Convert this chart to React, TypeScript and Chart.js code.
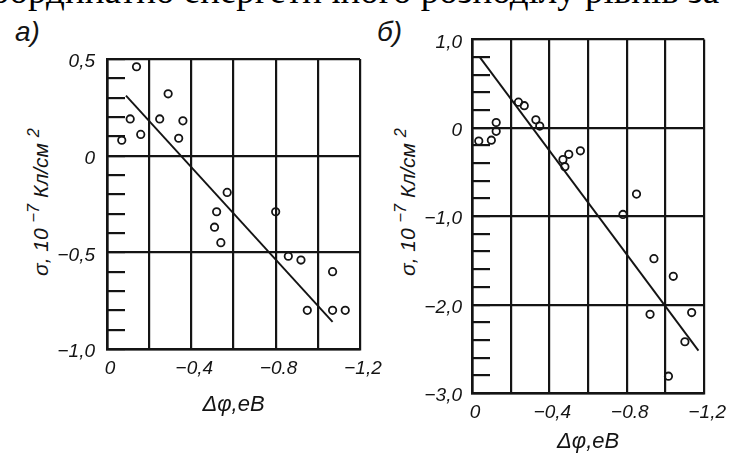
import React, { useEffect, useRef } from 'react';
import { Chart, registerables } from 'chart.js';

Chart.register(...registerables);

const INK = '#141414';
const SANS = "'Liberation Sans', Arial, sans-serif";

// Panel а: σ versus Δφ
const phiA = [-0.07, -0.11, -0.14, -0.16, -0.25, -0.29, -0.34, -0.36, -0.57, -0.52, -0.51, -0.54, -0.80, -0.86, -0.92, -1.07, -0.95, -1.07, -1.13];
const sigmaA = [0.08, 0.19, 0.46, 0.11, 0.19, 0.32, 0.09, 0.18, -0.19, -0.29, -0.37, -0.45, -0.29, -0.52, -0.54, -0.60, -0.80, -0.80, -0.80];
const fitPhiA = [-0.09, -1.07];
const fitSigmaA = [0.31, -0.86];

// Panel б: σ versus Δφ
const phiB = [-0.035, -0.10, -0.125, -0.125, -0.24, -0.27, -0.33, -0.35, -0.47, -0.50, -0.48, -0.56, -0.85, -0.78, -0.94, -1.04, -0.92, -1.135, -1.10, -1.015];
const sigmaB = [-0.15, -0.14, 0.06, -0.04, 0.29, 0.25, 0.09, 0.02, -0.36, -0.30, -0.44, -0.26, -0.75, -0.98, -1.48, -1.68, -2.11, -2.09, -2.42, -2.81];
const fitPhiB = [-0.04, -1.17];
const fitSigmaB = [0.80, -2.52];

// Axis ticks and labels
const xTickValues = [0, -0.4, -0.8, -1.2];
const xTickLabels = ['0', '−0,4', '−0.8', '−1,2'];
const yTickValuesA = [0.5, 0, -0.5, -1];
const yTickLabelsA = ['0,5', '0', '−0,5', '−1,0'];
const yTickValuesB = [1, 0, -1, -2, -3];
const yTickLabelsB = ['1,0', '0', '−1,0', '−2,0', '−3,0'];

const xTitle = 'Δφ,еВ';
const headerText = 'координатно енергетичного розподілу рівнів за';

const find = (values: number[], v: number) => values.findIndex((t) => Math.abs(t - v) < 1e-6);
const labelFor = (values: number[], labels: string[], v: number) => {
  const i = find(values, v);
  return i >= 0 ? labels[i] : '';
};

type Panel = {
  phi: number[];
  sigma: number[];
  fitPhi: number[];
  fitSigma: number[];
  yMin: number;
  yMax: number;
  yStep: number;
  yTickValues: number[];
  yTickLabels: string[];
  padding: { left: number; top: number; right: number; bottom: number };
  yWidth: number;
  xHeight: number;
  yLabelPad: number;
  xTitlePad: number;
};

function makeConfig(p: Panel): any {
  const tickFont = { family: SANS, size: 19, style: 'italic' as const };
  return {
    type: 'scatter',
    data: {
      datasets: [
        {
          type: 'scatter',
          data: p.phi.map((x, i) => ({ x, y: p.sigma[i] })),
          pointStyle: 'circle',
          pointRadius: 3.7,
          pointBorderWidth: 1.8,
          borderColor: INK,
          backgroundColor: 'rgba(0,0,0,0)',
        },
        {
          type: 'line',
          data: p.fitPhi.map((x, i) => ({ x, y: p.fitSigma[i] })),
          borderColor: INK,
          borderWidth: 1.9,
          pointRadius: 0,
          fill: false,
          tension: 0,
        },
      ],
    },
    options: {
      responsive: false,
      animation: false,
      devicePixelRatio: 1,
      layout: { padding: p.padding },
      plugins: { legend: { display: false }, tooltip: { enabled: false } },
      scales: {
        x: {
          type: 'linear',
          position: 'bottom',
          min: -1.2,
          max: 0,
          reverse: true,
          afterFit: (s: any) => {
            s.height = p.xHeight;
          },
          ticks: {
            stepSize: 0.2,
            autoSkip: false,
            maxRotation: 0,
            padding: 8,
            labelOffset: 3,
            color: INK,
            font: tickFont,
            callback: (v: number) => labelFor(xTickValues, xTickLabels, v),
          },
          grid: { color: INK, lineWidth: 2.2, drawTicks: false },
          border: { color: INK, width: 2.6 },
          title: {
            display: true,
            text: xTitle,
            color: INK,
            font: { family: SANS, size: 22, style: 'italic', lineHeight: 1 },
            padding: { top: 0, bottom: p.xTitlePad },
          },
        },
        y: {
          type: 'linear',
          position: 'left',
          min: p.yMin,
          max: p.yMax,
          afterFit: (s: any) => {
            s.width = p.yWidth;
          },
          ticks: {
            stepSize: p.yStep,
            autoSkip: false,
            padding: p.yLabelPad,
            labelOffset: 3,
            color: INK,
            font: tickFont,
            callback: (v: number) => labelFor(p.yTickValues, p.yTickLabels, v),
          },
          grid: {
            color: (ctx: any) => (find(p.yTickValues, ctx.tick.value) >= 0 ? INK : 'rgba(0,0,0,0)'),
            lineWidth: 2.2,
            drawTicks: true,
            tickLength: -18,
            tickColor: INK,
            tickWidth: 2.2,
          },
          border: { color: INK, width: 2.6 },
        },
      },
    },
  };
}

const panelA: Panel = {
  phi: phiA,
  sigma: sigmaA,
  fitPhi: fitPhiA,
  fitSigma: fitSigmaA,
  yMin: -1,
  yMax: 0.5,
  yStep: 0.1,
  yTickValues: yTickValuesA,
  yTickLabels: yTickLabelsA,
  padding: { left: 27, top: 59, right: 371, bottom: 37 },
  yWidth: 80,
  xHeight: 67,
  yLabelPad: 30,
  xTitlePad: 0,
};

const panelB: Panel = {
  phi: phiB,
  sigma: sigmaB,
  fitPhi: fitPhiB,
  fitSigma: fitSigmaB,
  yMin: -3,
  yMax: 1,
  yStep: 0.2,
  yTickValues: yTickValuesB,
  yTickLabels: yTickLabelsB,
  padding: { left: 392, top: 28, right: 20, bottom: 0 },
  yWidth: 80,
  xHeight: 60,
  yLabelPad: 28,
  xTitlePad: 0,
};

function PanelCanvas({ panel }: { panel: Panel }) {
  const ref = useRef<HTMLCanvasElement | null>(null);
  useEffect(() => {
    if (!ref.current) return;
    const chart = new Chart(ref.current, makeConfig(panel));
    return () => chart.destroy();
  }, [panel]);
  return (
    <canvas
      ref={ref}
      width={731}
      height={453}
      style={{ position: 'absolute', left: 0, top: 0, width: 731, height: 453 }}
    />
  );
}

// Vertical σ-axis caption with superscripts
function SigmaTitle({ cx, cy }: { cx: number; cy: number }) {
  const sup: React.CSSProperties = { fontSize: '0.78em', position: 'relative', top: '-0.55em' };
  return (
    <div
      style={{
        position: 'absolute',
        left: cx,
        top: cy,
        transform: 'translate(-50%, -50%) rotate(-90deg)',
        fontFamily: SANS,
        fontStyle: 'italic',
        fontSize: 21,
        lineHeight: 1,
        whiteSpace: 'nowrap',
        color: INK,
      }}
    >
      σ, 10 <span style={sup}>−7</span> Кл/см <span style={sup}>2</span>
    </div>
  );
}

export default function App() {
  const letter: React.CSSProperties = {
    position: 'absolute',
    top: 18,
    fontFamily: SANS,
    fontStyle: 'italic',
    fontSize: 28,
    lineHeight: 1,
    color: INK,
  };
  return (
    <div
      style={{
        position: 'fixed',
        left: 0,
        top: 0,
        width: 731,
        height: 453,
        background: '#fff',
        overflow: 'hidden',
      }}
    >
      <div
        style={{
          position: 'absolute',
          left: -25,
          top: -28,
          fontFamily: "'Liberation Serif', 'Times New Roman', serif",
          fontSize: 37,
          lineHeight: 1,
          whiteSpace: 'nowrap',
          color: '#000',
        }}
      >
        {headerText}
      </div>
      <div style={{ ...letter, left: 15 }}>а)</div>
      <div style={{ ...letter, left: 377 }}>б)</div>
      <SigmaTitle cx={40} cy={202} />
      <SigmaTitle cx={407} cy={202} />
      <PanelCanvas panel={panelA} />
      <PanelCanvas panel={panelB} />
    </div>
  );
}
